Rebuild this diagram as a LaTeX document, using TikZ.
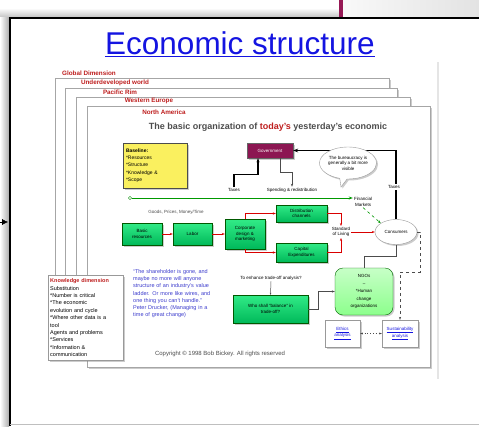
\documentclass[tikz,border=0pt]{standalone}
\usepackage{fontspec}
\setmainfont{Liberation Sans}
\usetikzlibrary{arrows.meta,shapes.geometric,shapes.callouts,shadows}
\definecolor{barpurple}{RGB}{150,25,85}
\definecolor{govt}{RGB}{140,22,82}
\definecolor{linkblue}{RGB}{20,20,225}
\definecolor{pagered}{RGB}{190,30,30}
\definecolor{quoteblue}{RGB}{60,60,205}
\definecolor{noteyellow}{RGB}{250,240,95}
\definecolor{boxgreenA}{RGB}{50,235,135}
\definecolor{boxgreenB}{RGB}{0,185,90}

\begin{document}
\begin{tikzpicture}[x=1pt,y=-1pt]
					\useasboundingbox (0,0) rectangle (479,426);
					\fill[white] (0,0) rectangle (479,426);
					\shade[top color=white,bottom color=gray!45] (0,8) rectangle (343,17);
					\shade[left color=gray!5,right color=gray!22] (343,0) rectangle (479,17);
					\fill[barpurple] (339,0) rectangle (343,17);
					\shade[left color=white,right color=gray!65] (0,17) rectangle (9,426);
					\fill[white] (10,18) rectangle (479,424);
					\draw[line width=2pt] (10,426) -- (10,18) -- (479,18);
					\draw[gray!50] (10,424.5) -- (479,424.5);
					\coordinate (a0) at (0,222);
					\coordinate (a1) at (8,222);
					\draw[-{Latex[length=6pt,width=6pt]}] (a0) -- (a1);
					\tikzstyle{every node}=[inner sep=1pt,font=\fontsize{4.5}{5.4}\selectfont];
					\tikzstyle{shad}=[drop shadow={shadow xshift=1.5pt,shadow yshift=-1.5pt,opacity=0.4}];
					\tikzstyle{page}=[draw=gray!70,fill=white,shad];
					\tikzstyle{tag}=[text=pagered,font=\fontsize{6.3}{6.5}\selectfont\bfseries];
					\tikzstyle{gbox}=[draw=green!35!black,top color=boxgreenA,bottom color=boxgreenB,shad,align=center];
					\tikzstyle{wbox}=[draw=gray!80,fill=white,shad,align=center,text=linkblue,minimum width=35,minimum height=27];
					\tikzstyle{redarr}=[red!85!black,line width=0.6pt,-{Stealth[length=3pt]}];
					\tikzstyle{thinarr}=[gray!60!black,line width=0.5pt];
					\path (240,44) node[text=linkblue,font=\fontsize{31.5}{31.5}\selectfont] (v0) {\underline{Economic structure}};
					\draw[gray!20,line width=1.5pt] (438,62) -- (438,379);
					\draw[page] (55,78) rectangle (389,350);
					\draw[page] (65,88) rectangle (397,352);
					\draw[page] (76,97) rectangle (410,355);
					\draw[page] (87,106) rectangle (430,367);
					\path (89,73) node[tag] (v1) {Global Dimension};
					\path (115,83) node[tag] (v2) {Underdeveloped world};
					\path (120,92) node[tag] (v3) {Pacific Rim};
					\path (149,101) node[tag] (v4) {Western Europe};
					\path (164,112) node[tag] (v5) {North America};
					\path (268,127) node[font=\fontsize{9}{9}\selectfont\bfseries,text=black!70] (v6) {The basic organization of \textcolor{pagered}{today's} yesterday's economic};
					\path (155,165.5) node[draw=black!70,fill=noteyellow,shad,minimum width=64,minimum height=45,text width=58pt,align=left,font=\fontsize{5}{7.3}\selectfont] (v7) {\textbf{Baseline:}\\{*}Resources\\{*}Structure\\{*}Knowledge \&\\{*}Scope};
					\path (270,150.5) node[draw=black!60,fill=govt,text=white,shad,minimum width=46,minimum height=15] (v8) {Government};
					\path (396,232) node[ellipse,draw=gray!80,fill=white,shad,minimum width=42,minimum height=25,inner sep=0] (v9) {Consumers};
					\draw[line width=1.5pt,-{Stealth[length=5pt]}] (v9.north) |- (v8.east);
					\path (394,187) node[fill=white] (v10) {Taxes};
					\path (348,163) node[ellipse callout,draw=gray!80,fill=white,shad,minimum width=57,minimum height=32,inner sep=0,align=center,callout absolute pointer={(341,187)}] (v11) {The bureaucracy is\\generally a bit more\\visible};
					\path (234,190) node (v12) {Taxes};
					\path (292,190) node (v13) {Spending \& redistribution};
					\draw[line width=1.2pt,-{Stealth[length=4pt]}] (v12.north) -- ++(0,-13) -| ([xshift=-12pt]v8.south);
					\draw[thinarr,-{Stealth[length=3pt]}] ([xshift=10pt]v8.south) -- ++(0,14) -| (v13.north);
					\path (130,198) node[circle,draw=green!55!black,fill=white,inner sep=1.2pt] (v14) {};
					\path (363,202) node[align=center] (v15) {Financial\\Markets};
					\draw[green!60!black,line width=0.8pt,-{Stealth[length=4pt]}] (v14) -- (v14 -| v15.west);
					\path (176,212) node[text=black!70] (v16) {Goods, Prices, Money/Time};
					\path (142,234) node[gbox,minimum width=40,minimum height=22] (v17) {Basic\\resources};
					\path (192.5,234) node[gbox,minimum width=39,minimum height=22] (v18) {Labor};
					\path (245,234) node[gbox,minimum width=40,minimum height=30] (v19) {Corporate\\design \&\\marketing};
					\path (301.5,213.5) node[gbox,minimum width=51,minimum height=17] (v20) {Distribution\\channels};
					\path (301.5,252.5) node[gbox,minimum width=51,minimum height=19] (v21) {Capital\\Expenditures};
					\path (341,232) node[align=center] (v22) {Standard\\of Living};
					\draw[redarr] (v17) -- (v18);
					\draw[redarr] (v18) -- (v19);
					\draw[redarr] (v19.north) |- (v20.west);
					\draw[redarr] (v19.south) |- (v21.west);
					\draw[redarr] (v20.east) -| (v22.north);
					\draw[redarr] (v21.east) -| (v22.south);
					\draw[redarr] (v22.east) -- (v9.west);
					\draw[green!60!black,dashed,line width=0.6pt,-{Stealth[length=3pt]}] (v15.south) -- (v9.150);
					\path (364,291.5) node[draw=green!40!black,rounded corners=8pt,top color=green!22,bottom color=green!45,shad,minimum width=58,minimum height=47,align=center,font=\fontsize{4.5}{7.5}\selectfont] (v23) {NGOs\\--\\{*}Human\\change\\organizations};
					\draw[thinarr] (v9.south) -- ++(0,12) -| (v23.north);
					\path (271,278) node (v24) {To enhance trade-off analysis?};
					\path (270.5,309) node[gbox,minimum width=75,minimum height=28] (v25) {Who shall ``balance'' in\\trade-off?};
					\draw[thinarr,-{Stealth[length=2pt]}] (v24.south) -- (v25.north);
					\draw[thinarr,-{Stealth[length=3pt]}] (v25.east) -- ++(10,0) |- (v23.west);
					\path (342.5,333.5) node[wbox] (v26) {\underline{Ethics}\\\underline{analysis}};
					\path (400,333.5) node[wbox,minimum width=36] (v27) {\underline{Sustainability}\\\underline{analysis}};
					\draw[black!70,dotted,line width=0.8pt,{Stealth[length=2.5pt]}-{Stealth[length=2.5pt]}] (v26) -- (v27);
					\draw[thinarr,dashed,-{Stealth[length=3pt]}] (v9.east) -- ++(3,0) -- ++(0,40) -| (v27.north);
					\path (48,275) node[anchor=north west,draw=gray!80,fill=white,shad,inner sep=2pt,text width=71pt,minimum height=85,align=left,font=\fontsize{5.5}{7.4}\selectfont] (v28) {\textcolor{pagered}{\textbf{Knowledge dimension}}\\Substitution\\{*}Number is critical\\{*}The economic\\evolution and cycle\\{*}Where other data is a\\tool\\Agents and problems\\{*}Services\\{*}Information \&\\communication};
					\path (132,268) node[anchor=north west,text width=92pt,align=left,text=quoteblue,font=\fontsize{5.5}{7.3}\selectfont] (v29) {``The shareholder is gone, and\\maybe no more will anyone\\structure of an industry's value\\ladder. Or more like wires, and\\one thing you can't handle.''\\Peter Drucker, (Managing in a\\ time of great change)};
					\path (220,354) node[text=black!70,font=\fontsize{6}{6}\selectfont] (v30) {Copyright \textcopyright{} 1998 Bob Bickey. All rights reserved};
					\end{tikzpicture}
\end{document}
